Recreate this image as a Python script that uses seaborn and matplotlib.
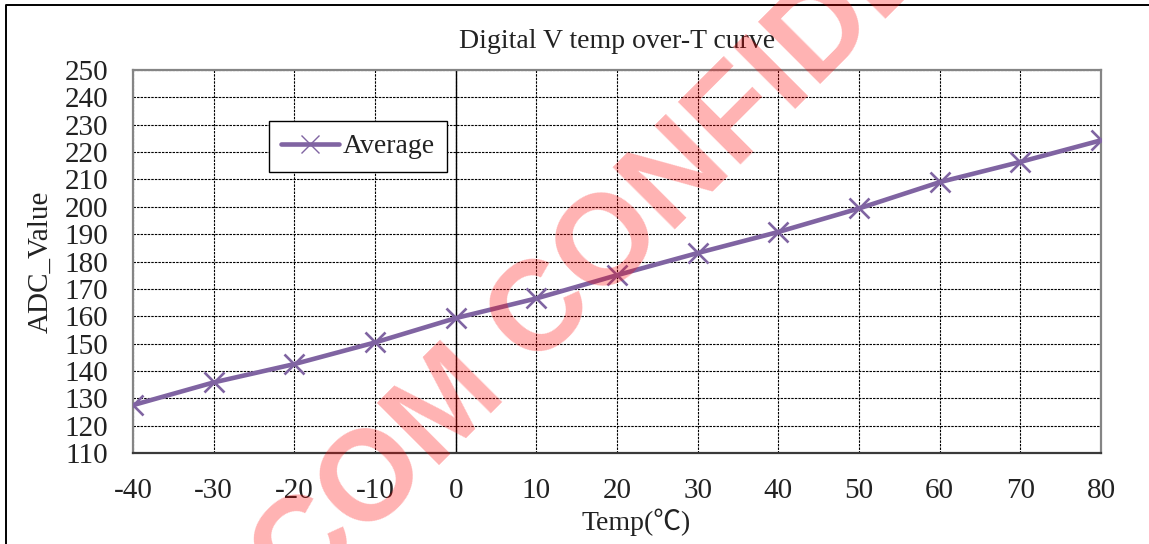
import matplotlib
matplotlib.use("Agg")
import matplotlib.pyplot as plt
from matplotlib.lines import Line2D
import seaborn as sns
import pandas as pd

# ---- data ----
temps = [-40, -30, -20, -10, 0, 10, 20, 30, 40, 50, 60, 70, 80]
adc_average = [127.5, 135.8, 142.5, 150.4, 159.3, 166.5, 175.0, 183.1, 190.8, 199.4, 209.0, 216.4, 224.3]
series_name = "Average"
x_ticks = list(range(-40, 81, 10))
y_ticks = list(range(110, 251, 10))
title = "Digital V temp over-T curve"
x_label = "Temp(℃)"
y_label = "ADC_Value"
watermark = "COM CONFIDENTIAL"

df = pd.DataFrame({"Temp": temps, "ADC": adc_average})

sns.set_theme(style="white")
plt.rcParams["font.family"] = ["Liberation Serif", "Noto Sans CJK TC", "DejaVu Sans"]
plt.rcParams["axes.unicode_minus"] = False

fig = plt.figure(figsize=(11.49, 5.44), dpi=100)
ax = fig.add_axes([133 / 1149, 1 - 453 / 544, (1101 - 133) / 1149, (453 - 70) / 544])

ax.set_xlim(-40, 80)
ax.set_ylim(110, 250)
ax.set_xticks(x_ticks)
ax.set_yticks(y_ticks)

ax.grid(True, color="black", linestyle=(0, (2.2, 1.0)), linewidth=0.8)
ax.set_axisbelow(True)
ax.axvline(0, color="black", linewidth=1.0, zorder=1)

line_color = "#8064A2"
sns.lineplot(data=df, x="Temp", y="ADC", ax=ax, color=line_color, linewidth=3.3,
             marker="x", markersize=15, markeredgewidth=1.9, markeredgecolor=line_color,
             label=series_name, zorder=3)

for side in ["left", "top", "right"]:
    ax.spines[side].set_color("#858585")
    ax.spines[side].set_linewidth(1.6)
ax.spines["bottom"].set_color("#3a3a3a")
ax.spines["bottom"].set_linewidth(1.6)

ax.tick_params(axis="both", length=0, labelsize=21, colors="#222222")
ax.tick_params(axis="y", pad=18)
ax.tick_params(axis="x", pad=18)

ax.set_title(title, fontsize=20, pad=16, color="#222222")
ax.set_xlabel(x_label, fontsize=20, color="#222222")
ax.set_ylabel(y_label, fontsize=21, color="#222222")
ax.xaxis.set_label_coords(0.52, -0.145)
ax.yaxis.set_label_coords(-0.082, 0.5)

leg = ax.legend(loc="upper left", bbox_to_anchor=(0.140, 0.866), borderaxespad=0,
                fontsize=20, frameon=True, fancybox=False, framealpha=1,
                edgecolor="black", handlelength=2.1, handletextpad=0.12,
                borderpad=0.45)
leg.get_frame().set_linewidth(1.0)
for t in leg.get_texts():
    t.set_color("#222222")
for h in leg.legend_handles:
    h.set_markeredgewidth(1.0)
    h.set_markersize(13)

# outer frame (cropped border of the original document)
fig.add_artist(Line2D([6 / 1149, 6 / 1149, 1.0], [0.0, 1 - 5 / 544, 1 - 5 / 544],
                      transform=fig.transFigure, color="black", linewidth=1.4))

# watermark
fig.text(298.5 / 1149, 1 - 606.5 / 544, watermark, rotation=45, rotation_mode="anchor",
         ha="left", va="baseline", fontsize=92, fontweight="bold",
         family=["Liberation Sans", "DejaVu Sans"], color="red", alpha=0.3, zorder=10)

fig.savefig("out.png", dpi=100)
